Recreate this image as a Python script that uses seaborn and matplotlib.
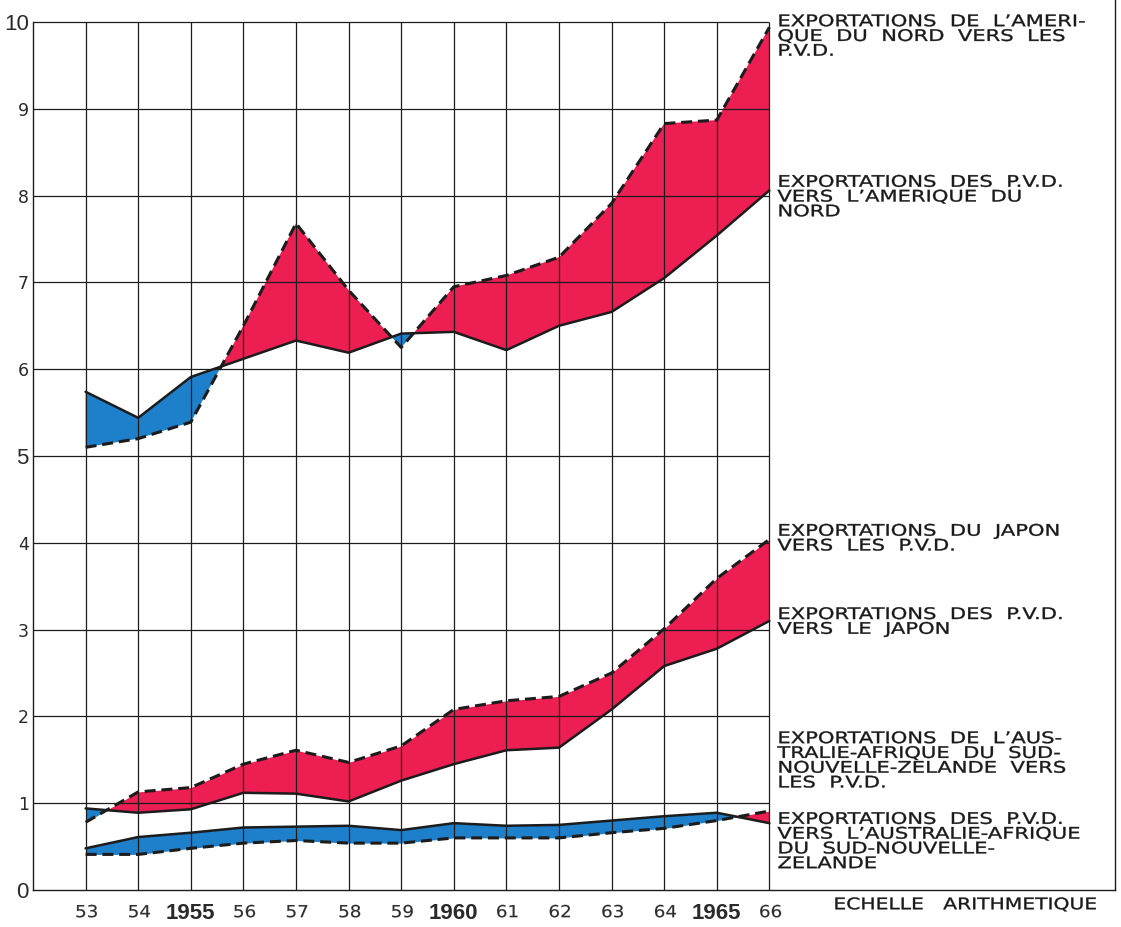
import numpy as np
import pandas as pd
import matplotlib
matplotlib.use("Agg")
import matplotlib.pyplot as plt
from matplotlib.patheffects import AbstractPathEffect
from matplotlib.transforms import Affine2D
import seaborn as sns

# ---------------- data (billions) ----------------
years = [53, 54, 55, 56, 57, 58, 59, 60, 61, 62, 63, 64, 65, 66]
year_labels = ["53", "54", "1955", "56", "57", "58", "59", "1960", "61", "62", "63", "64", "1965", "66"]
major_years = ["1955", "1960", "1965"]

na_to_pvd = [5.10, 5.20, 5.39, 6.50, 7.68, 6.91, 6.25, 6.95, 7.08, 7.29, 7.91, 8.83, 8.87, 9.94]
pvd_to_na = [5.74, 5.44, 5.91, 6.12, 6.33, 6.19, 6.41, 6.43, 6.22, 6.50, 6.66, 7.05, 7.54, 8.06]

jp_to_pvd = [0.78, 1.13, 1.18, 1.45, 1.61, 1.47, 1.66, 2.08, 2.18, 2.23, 2.50, 3.01, 3.59, 4.04]
pvd_to_jp = [0.94, 0.89, 0.93, 1.12, 1.11, 1.02, 1.26, 1.45, 1.61, 1.64, 2.08, 2.58, 2.78, 3.10]

au_to_pvd = [0.41, 0.41, 0.48, 0.54, 0.57, 0.54, 0.54, 0.60, 0.60, 0.60, 0.66, 0.71, 0.80, 0.91]
pvd_to_au = [0.48, 0.61, 0.66, 0.72, 0.73, 0.74, 0.69, 0.77, 0.74, 0.75, 0.80, 0.85, 0.89, 0.77]

y_ticks = [0, 1, 2, 3, 4, 5, 6, 7, 8, 9, 10]
y_major = [0, 5, 10]

labels = [
    ("EXPORTATIONS  DE  L\u2019AMERI-\nQUE  DU  NORD  VERS  LES\nP.V.D.", 10.09),
    ("EXPORTATIONS  DES  P.V.D.\nVERS  L\u2019AMERIQUE  DU\nNORD", 8.24),
    ("EXPORTATIONS  DU  JAPON\nVERS  LES  P.V.D.", 4.22),
    ("EXPORTATIONS  DES  P.V.D.\nVERS  LE  JAPON", 3.26),
    ("EXPORTATIONS  DE  L\u2019AUS-\nTRALIE-AFRIQUE  DU  SUD-\nNOUVELLE-ZELANDE  VERS\nLES  P.V.D.", 1.83),
    ("EXPORTATIONS  DES  P.V.D.\nVERS  L\u2019AUSTRALIE-AFRIQUE\nDU  SUD-NOUVELLE-\nZELANDE", 0.90),
]
scale_label = "ECHELLE   ARITHMETIQUE"

pairs = [(na_to_pvd, pvd_to_na), (jp_to_pvd, pvd_to_jp), (au_to_pvd, pvd_to_au)]

RED = "#EC1E52"
BLUE = "#1E7FCB"
INK = "#1c1c1c"


class Stretch(AbstractPathEffect):
    """Widen glyphs horizontally (extended lettering of the original), with a light stroke."""

    def __init__(self, sx, stroke=0.0):
        super().__init__()
        self.sx = sx
        self.stroke = stroke

    def draw_path(self, renderer, gc, tpath, affine, rgbFace=None):
        gc0 = renderer.new_gc()
        gc0.copy_properties(gc)
        if self.stroke > 0 and rgbFace is not None:
            gc0.set_linewidth(self.stroke)
            gc0.set_foreground(rgbFace)
        renderer.draw_path(gc0, tpath, Affine2D().scale(self.sx, 1.0) + affine, rgbFace)
        gc0.restore()


# ---------------- figure ----------------
sns.set_style("white")
plt.rcParams["font.family"] = ["DejaVu Sans"]

fig = plt.figure(figsize=(11.21, 9.27), dpi=100)
W, H = 1121, 927
ax = fig.add_axes([33 / W, (H - 890) / H, (1115 - 33) / W, 890 / H])
fig.patch.set_facecolor("white")
ax.set_facecolor("white")

xmax = 52 + (1115 - 33) / 52.6
ax.set_xlim(52, xmax)
ax.set_ylim(0, 890 / 86.8)

x = np.array(years, dtype=float)
for dashed, solid in pairs:
    d = np.array(dashed)
    s = np.array(solid)
    ax.fill_between(x, d, s, where=d >= s, interpolate=True, color=RED, lw=0, zorder=1)
    ax.fill_between(x, d, s, where=d <= s, interpolate=True, color=BLUE, lw=0, zorder=1)

# grid
ax.vlines(years, 0, 10, color=INK, lw=0.9, zorder=2)
ax.hlines(y_ticks[1:], 52, 66, color=INK, lw=0.9, zorder=2)

# lines via seaborn
for i, (dashed, solid) in enumerate(pairs):
    df = pd.DataFrame({"year": years, "dashed": dashed, "solid": solid})
    sns.lineplot(data=df, x="year", y="solid", ax=ax, color=INK, lw=1.8,
                 estimator=None, legend=False, zorder=3)
    sns.lineplot(data=df, x="year", y="dashed", ax=ax, color=INK, lw=2.2,
                 estimator=None, legend=False, zorder=3, linestyle=(0, (3.6, 1.9)))

ax.set_xlabel("")
ax.set_ylabel("")

# spines
for side in ["left", "bottom", "right"]:
    ax.spines[side].set_visible(True)
    ax.spines[side].set_color(INK)
    ax.spines[side].set_linewidth(1.0)
ax.spines["top"].set_visible(False)
ax.spines["left"].set_bounds(0, 10)

# ticks
ax.set_xticks(years, year_labels)
ax.set_yticks(y_ticks, [str(v) for v in y_ticks])
ax.tick_params(axis="x", length=0, pad=9.5)
ax.tick_params(axis="y", length=0, pad=3)
for t in ax.get_xticklabels():
    if t.get_text() in major_years:
        t.set_fontfamily(["Liberation Sans", "DejaVu Sans"])
        t.set_fontsize(16)
        t.set_fontweight("bold")
        t.set_color("#2a2a2a")
    else:
        t.set_fontsize(12)
        t.set_color("#2e2e2e")
        t.set_path_effects([Stretch(1.1, 0.12)])
for t in ax.get_yticklabels():
    if int(t.get_text()) in y_major:
        t.set_fontfamily(["Liberation Sans", "DejaVu Sans"])
        t.set_fontsize(16)
        t.set_color("#2a2a2a")
    else:
        t.set_fontsize(12.5)
        t.set_color("#2a2a2a")

# right-hand labels
tx = 66 + (777 - 769) / 52.6
for txt, ytop in labels:
    ax.text(tx, ytop, txt, ha="left", va="top", fontsize=11.5, color="#1a1a1a",
            linespacing=0.98, zorder=4, path_effects=[Stretch(1.32, 0.25)])
ax.text(66 + (833 - 769) / 52.6, -0.17, scale_label, ha="left", va="center",
        fontsize=11.5, color="#1a1a1a", clip_on=False, path_effects=[Stretch(1.27, 0.25)])

fig.savefig("out.png", dpi=100, facecolor="white")
